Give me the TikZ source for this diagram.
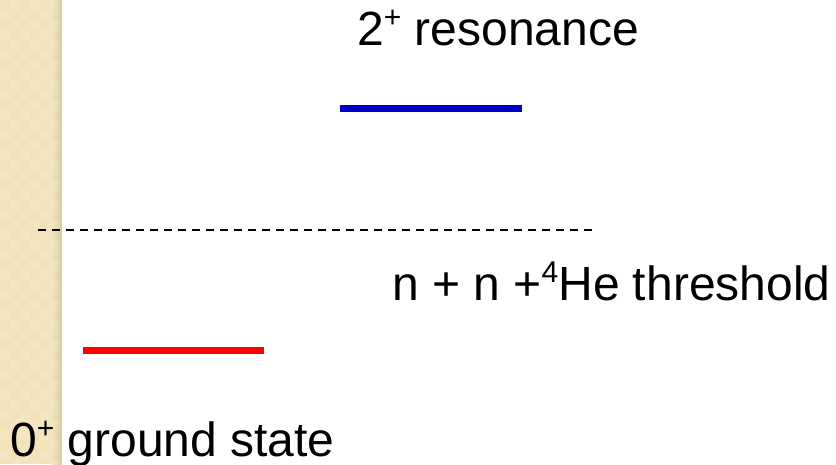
\documentclass[tikz,border=0pt]{standalone}
\usepackage{fontspec}
\setmainfont{Liberation Sans}
\newcommand{\supx}[1]{\raisebox{0.36em}{\fontsize{30}{30}\selectfont #1}}
\definecolor{strip}{HTML}{F3E3BA}
\definecolor{stripedge}{HTML}{D9C9A0}
\definecolor{resblue}{HTML}{0000C8}
\definecolor{gsred}{HTML}{FF0000}
\tikzset{
  lbl/.style={anchor=base west, inner sep=0pt, font=\fontsize{48}{48}\selectfont},
  level/.style={line width=7pt},
  thr/.style={line width=1.5pt, dash pattern=on 8pt off 6pt}
}
\begin{document}
\begin{tikzpicture}[x=1pt,y=-1pt]
\useasboundingbox (0,0) rectangle (836,464);
\fill[white] (0,0) rectangle (836,464);
\fill[strip] (0,0) rectangle (62,464);
\shade[left color=strip, right color=stripedge] (52,0) rectangle (62,464);
% checker texture
\foreach \i in {0,...,5}{
  \foreach \j in {0,...,46}{
    \pgfmathtruncatemacro{\chk}{mod(\i+\j,2)}
    \ifnum\chk=1
      \fill[white, opacity=0.12] (\i*10,\j*10) rectangle ++(10,10);
    \fi
  }
}
\coordinate (b1) at (340,108);
\coordinate (b2) at (522,108);
\coordinate (r1) at (83,350);
\coordinate (r2) at (264,350);
\coordinate (d1) at (38,230);
\coordinate (d2) at (592,230);
\draw[level, resblue] (b1) -- (b2);
\draw[level, gsred] (r1) -- (r2);
\draw[thr, black] (d1) -- (d2);
\node[lbl] (res) at (357,45) {2\supx{+} resonance};
\node[lbl] (thrl) at (392,300) {n + n +\supx{4}He threshold};
\node[lbl] (gs) at (10,456) {0\supx{+} ground state};
\end{tikzpicture}
\end{document}
